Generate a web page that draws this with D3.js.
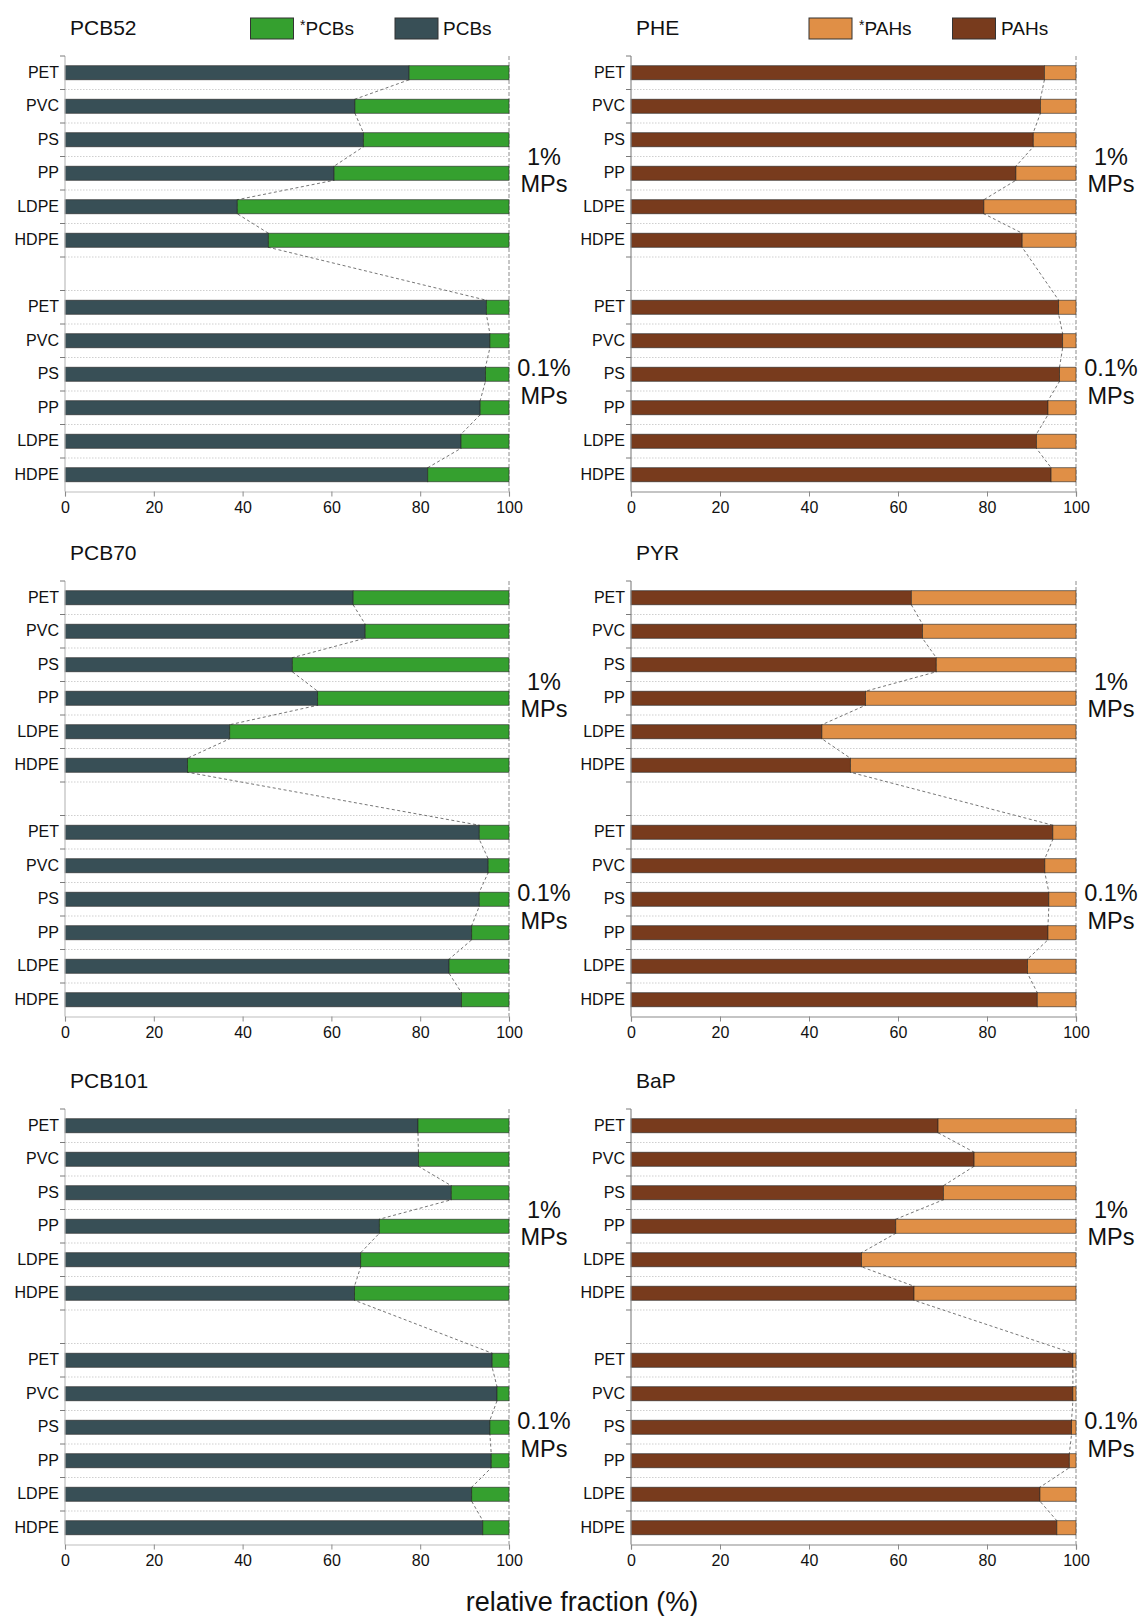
<!DOCTYPE html>
<html>
<head>
<meta charset="utf-8">
<script src="https://cdn.jsdelivr.net/npm/d3@7"></script>
<style>
  body { margin: 0; background: #fff; }
  svg { display: block; }
  text { font-family: "Liberation Sans", Arial, Helvetica, sans-serif; fill: #111; }
</style>
</head>
<body>
<svg id="chart" width="1138" height="1616"></svg>
<script>
// Polymer types (top to bottom within each loading block)
const materials = ["PET", "PVC", "PS", "PP", "LDPE", "HDPE"];
const loadings = ["1%", "0.1%"];
const xTicks = [0, 20, 40, 60, 80, 100];

// Relative fraction (%) of the un-starred pool; the starred pool makes up the rest to 100 %
const PCB52_1 = [77.5, 65.3, 67.2, 60.6, 38.8, 45.8];
const PCB52_01 = [94.9, 95.7, 94.7, 93.5, 89.2, 81.7];
const PHE_1 = [92.9, 92.0, 90.4, 86.5, 79.3, 87.9];
const PHE_01 = [96.1, 97.0, 96.3, 93.7, 91.1, 94.4];
const PCB70_1 = [64.9, 67.6, 51.2, 56.9, 37.1, 27.6];
const PCB70_01 = [93.3, 95.3, 93.3, 91.6, 86.5, 89.3];
const PYR_1 = [63.0, 65.5, 68.6, 52.7, 42.9, 49.3];
const PYR_01 = [94.8, 93.0, 93.9, 93.7, 89.1, 91.3];
const PCB101_1 = [79.5, 79.6, 87.0, 70.8, 66.6, 65.2];
const PCB101_01 = [96.2, 97.3, 95.7, 96.0, 91.6, 94.1];
const BaP_1 = [69.0, 77.1, 70.2, 59.5, 51.8, 63.6];
const BaP_01 = [99.3, 99.3, 99.0, 98.5, 91.9, 95.7];

// Compound families: legend names and colours (starred, plain)
const PCB_names = ["*PCBs", "PCBs"];
const PCB_colors = ["#35a02f", "#384f56"];
const PAH_names = ["*PAHs", "PAHs"];
const PAH_colors = ["#e08f46", "#783b1d"];

const panels = [
  { title: "PCB52",  col: 0, row: 0, hi: PCB52_1,  lo: PCB52_01,  names: PCB_names, colors: PCB_colors },
  { title: "PHE",    col: 1, row: 0, hi: PHE_1,    lo: PHE_01,    names: PAH_names, colors: PAH_colors },
  { title: "PCB70",  col: 0, row: 1, hi: PCB70_1,  lo: PCB70_01,  names: PCB_names, colors: PCB_colors },
  { title: "PYR",    col: 1, row: 1, hi: PYR_1,    lo: PYR_01,    names: PAH_names, colors: PAH_colors },
  { title: "PCB101", col: 0, row: 2, hi: PCB101_1, lo: PCB101_01, names: PCB_names, colors: PCB_colors },
  { title: "BaP",    col: 1, row: 2, hi: BaP_1,    lo: BaP_01,    names: PAH_names, colors: PAH_colors }
];

// Layout
const colRange = [[65, 509], [631, 1076]];
const rowTop = [56, 581, 1109];
const plotH = 435.5;
const axisColor = ["#bdbdbd", "#8a8a8a"];
// legend offsets from the panel's zero line: swatch 1, text 1, swatch 2, text 2
const legendOffsets = [[185.5, 235, 330, 378], [178, 228, 321.5, 370]];

const svg = d3.select("#chart");

// One band per bar plus an empty band separating the two loadings
const slots = [
  ...materials.map(m => loadings[0] + "|" + m),
  "gap",
  ...materials.map(m => loadings[1] + "|" + m)
];

panels.forEach(p => {
  const top = rowTop[p.row];
  const bottom = top + plotH;
  const x = d3.scaleLinear().domain([0, 100]).range(colRange[p.col]);
  const y = d3.scaleBand().domain(slots).range([top, bottom])
    .paddingInner(0.58).paddingOuter(0.29);
  const bw = y.bandwidth();
  const half = (y.step() - bw) / 2;
  const bounds = slots.map(s => y(s) - half).concat([bottom]);

  const rows = [];
  materials.forEach((m, i) => rows.push({ key: loadings[0] + "|" + m, v: p.hi[i] }));
  materials.forEach((m, i) => rows.push({ key: loadings[1] + "|" + m, v: p.lo[i] }));

  const g = svg.append("g");

  // dotted category separators
  g.append("g").selectAll("line").data(bounds.slice(1, -1)).join("line")
    .attr("x1", x(0)).attr("x2", x(100))
    .attr("y1", d => d).attr("y2", d => d)
    .attr("stroke", "#cfcfcf").attr("stroke-width", 1)
    .attr("stroke-dasharray", "1.5,1.5");

  // dashed series line at 100 %
  g.append("line")
    .attr("x1", x(100)).attr("x2", x(100))
    .attr("y1", top).attr("y2", bottom)
    .attr("stroke", "#8c8c8c").attr("stroke-width", 1)
    .attr("stroke-dasharray", "4,2");

  // dashed series line joining the segment boundaries of consecutive bars
  const pts = [];
  rows.forEach((r, k) => {
    if (k > 0) pts.push([x(r.v), y(r.key)]);
    if (k < rows.length - 1) pts.push([x(r.v), y(r.key) + bw]);
  });
  g.append("path")
    .attr("d", d3.line()(pts))
    .attr("fill", "none")
    .attr("stroke", "#666").attr("stroke-width", 0.9)
    .attr("stroke-dasharray", "3,2.5");

  // stacked bars
  const bars = g.append("g").selectAll("g").data(rows).join("g");
  bars.append("rect")
    .attr("x", x(0)).attr("y", d => y(d.key))
    .attr("width", d => x(d.v) - x(0)).attr("height", bw)
    .attr("fill", p.colors[1])
    .attr("stroke", "#262626").attr("stroke-width", 0.8).attr("stroke-opacity", 0.75);
  bars.append("rect")
    .attr("x", d => x(d.v)).attr("y", d => y(d.key))
    .attr("width", d => x(100) - x(d.v)).attr("height", bw)
    .attr("fill", p.colors[0])
    .attr("stroke", "#262626").attr("stroke-width", 0.8).attr("stroke-opacity", 0.75);

  // y axis line and boundary ticks
  g.append("line")
    .attr("x1", x(0)).attr("x2", x(0)).attr("y1", top).attr("y2", bottom)
    .attr("stroke", axisColor[p.col]).attr("stroke-width", 1.2);
  g.append("g").selectAll("line").data(bounds.slice(0, -1)).join("line")
    .attr("x1", x(0) - 5).attr("x2", x(0))
    .attr("y1", d => d).attr("y2", d => d)
    .attr("stroke", "#7a7a7a").attr("stroke-width", 1);

  // category labels
  const yAxis = g.append("g")
    .attr("transform", `translate(${x(0)},0)`)
    .call(d3.axisLeft(y).tickValues(slots.filter(s => s !== "gap"))
      .tickSize(0).tickPadding(6).tickFormat(s => s.split("|")[1]));
  yAxis.select(".domain").remove();
  yAxis.selectAll("text").attr("font-size", 16).attr("fill", "#111")
    .style("font-family", "'Liberation Sans', Arial, sans-serif");

  // x axis
  const xAxis = g.append("g")
    .attr("transform", `translate(0,${bottom})`)
    .call(d3.axisBottom(x).tickValues(xTicks).tickSize(5).tickPadding(5).tickFormat(d3.format("d")));
  xAxis.select(".domain").attr("stroke", axisColor[p.col]).attr("stroke-width", 1.2);
  xAxis.selectAll(".tick line").attr("stroke", "#8a8a8a");
  xAxis.selectAll("text").attr("font-size", 16).attr("fill", "#111")
    .style("font-family", "'Liberation Sans', Arial, sans-serif");

  // panel title
  svg.append("text")
    .attr("x", x(0) + 5).attr("y", top - 21)
    .attr("font-size", 21)
    .text(p.title);

  // loading labels
  const lx = x(100) + 35;
  [[loadings[0], 100.7], [loadings[1], 312]].forEach(([lab, dy]) => {
    const t = svg.append("text").attr("text-anchor", "middle").attr("font-size", 23.5);
    t.append("tspan").attr("x", lx).attr("y", top + dy).attr("dy", "0.35em").text(lab);
    t.append("tspan").attr("x", lx).attr("y", top + dy + 27.5).attr("dy", "0.35em").text("MPs");
  });

  // legend (top row only)
  if (p.row === 0) {
    const base = x(0);
    const o = legendOffsets[p.col];
    const items = [
      { name: p.names[0], color: p.colors[0], sx: base + o[0], tx: base + o[1] },
      { name: p.names[1], color: p.colors[1], sx: base + o[2], tx: base + o[3] }
    ];
    items.forEach(it => {
      svg.append("rect")
        .attr("x", it.sx).attr("y", top - 38).attr("width", 43).attr("height", 21)
        .attr("fill", it.color).attr("stroke", "#333").attr("stroke-width", 1);
      const t = svg.append("text").attr("x", it.tx).attr("y", top - 21).attr("font-size", 19);
      if (it.name.startsWith("*")) {
        t.append("tspan").attr("font-size", 14).attr("dy", -5).text("*");
        t.append("tspan").attr("dy", 5).text(it.name.slice(1));
      } else {
        t.text(it.name);
      }
    });
  }
});

// shared x-axis title
svg.append("text")
  .attr("x", 582).attr("y", 1611)
  .attr("text-anchor", "middle")
  .attr("font-size", 27)
  .text("relative fraction (%)");
</script>
</body>
</html>
